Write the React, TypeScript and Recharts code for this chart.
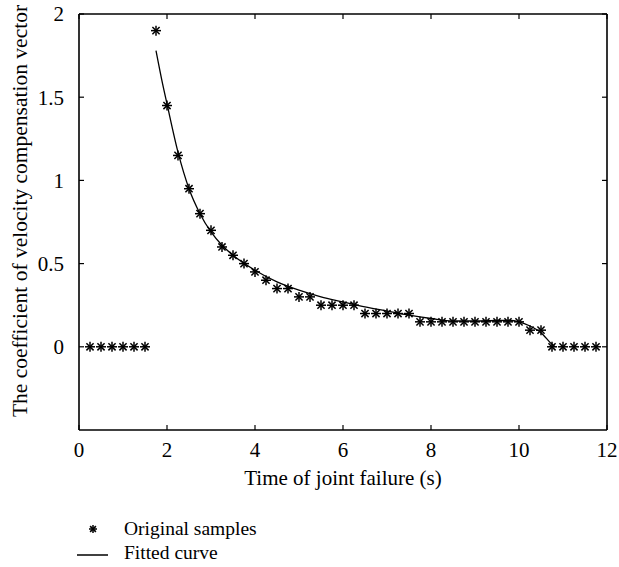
import {
  ComposedChart,
  Scatter,
  Line,
  XAxis,
  YAxis,
} from "recharts";

const sampleX = [
  0.25, 0.5, 0.75, 1, 1.25, 1.5, 1.75, 2, 2.25, 2.5, 2.75, 3, 3.25, 3.5, 3.75, 4,
  4.25, 4.5, 4.75, 5, 5.25, 5.5, 5.75, 6, 6.25, 6.5, 6.75, 7, 7.25, 7.5, 7.75, 8,
  8.25, 8.5, 8.75, 9, 9.25, 9.5, 9.75, 10, 10.25, 10.5, 10.75, 11, 11.25, 11.5, 11.75,
];
const sampleY = [
  0, 0, 0, 0, 0, 0, 1.9, 1.45, 1.15, 0.95, 0.8, 0.7, 0.6, 0.55, 0.5, 0.45,
  0.4, 0.35, 0.35, 0.3, 0.3, 0.25, 0.25, 0.25, 0.25, 0.2, 0.2, 0.2, 0.2, 0.2, 0.15, 0.15,
  0.15, 0.15, 0.15, 0.15, 0.15, 0.15, 0.15, 0.15, 0.1, 0.1, 0, 0, 0, 0, 0,
];

const fitX = [
  1.75, 1.9, 2, 2.25, 2.5, 2.75, 3, 3.25, 3.5, 4, 4.5, 5, 5.5, 6, 6.5, 7, 7.5, 8,
  8.5, 9, 9.5, 9.8, 10, 10.25, 10.5, 10.75, 10.82,
];
const fitY = [
  1.78, 1.58, 1.46, 1.17, 0.95, 0.8, 0.69, 0.61, 0.55, 0.46, 0.39, 0.34, 0.3, 0.27,
  0.24, 0.215, 0.19, 0.17, 0.155, 0.155, 0.158, 0.158, 0.15, 0.125, 0.085, 0.015, 0,
];

const xTicks = [0, 2, 4, 6, 8, 10, 12];
const yTicks = [0, 0.5, 1, 1.5, 2];

const samples = sampleX.map((x, i) => ({ x, y: sampleY[i] }));
const fitted = fitX.map((x, i) => ({ x, y: fitY[i] }));

const FONT = "'Liberation Serif', 'Times New Roman', serif";
const FS = 21;

function Star({ cx, cy, r = 5 }: { cx?: number; cy?: number; r?: number }) {
  if (cx == null || cy == null) return <g />;
  const d = r * 0.72;
  return (
    <g stroke="#000" strokeWidth={1.5}>
      <line x1={cx - r} y1={cy} x2={cx + r} y2={cy} />
      <line x1={cx} y1={cy - r} x2={cx} y2={cy + r} />
      <line x1={cx - d} y1={cy - d} x2={cx + d} y2={cy + d} />
      <line x1={cx - d} y1={cy + d} x2={cx + d} y2={cy - d} />
    </g>
  );
}

const Empty = () => <g />;
const blank = () => "";

const tickStyle = { fill: "#000", fontSize: FS, fontFamily: FONT };
const axisLine = { stroke: "#000", strokeWidth: 1.6 };
const tickLine = { stroke: "#000", strokeWidth: 1.2 };

export default function App() {
  return (
    <div
      style={{
        position: "fixed",
        left: 0,
        top: 0,
        width: 619,
        height: 567,
        background: "#fff",
        fontFamily: FONT,
      }}
    >
      <ComposedChart
        width={619}
        height={498}
        margin={{ top: 14, right: 12, left: 8, bottom: 0 }}
      >
        {/* frame + inward tick marks (mirrored axes, no labels) */}
        <XAxis
          xAxisId="bm"
          orientation="bottom"
          mirror
          dataKey="x"
          type="number"
          domain={[0, 12]}
          ticks={xTicks}
          height={1}
          axisLine={axisLine}
          tickLine={tickLine}
          tickSize={5}
          tickFormatter={blank}
        />
        <XAxis
          xAxisId="t"
          orientation="top"
          mirror
          dataKey="x"
          type="number"
          domain={[0, 12]}
          ticks={xTicks}
          height={1}
          axisLine={axisLine}
          tickLine={tickLine}
          tickSize={5}
          tickFormatter={blank}
        />
        <YAxis
          yAxisId="lm"
          orientation="left"
          mirror
          type="number"
          domain={[-0.5, 2]}
          ticks={yTicks}
          width={1}
          axisLine={axisLine}
          tickLine={tickLine}
          tickSize={5}
          tickFormatter={blank}
        />
        <YAxis
          yAxisId="r"
          orientation="right"
          mirror
          type="number"
          domain={[-0.5, 2]}
          ticks={yTicks}
          width={1}
          axisLine={axisLine}
          tickLine={tickLine}
          tickSize={5}
          tickFormatter={blank}
        />
        {/* labelled axes */}
        <XAxis
          xAxisId="b"
          dataKey="x"
          type="number"
          domain={[0, 12]}
          ticks={xTicks}
          height={68}
          tick={tickStyle}
          axisLine={false}
          tickLine={false}
          tickMargin={6}
          label={{
            content: ({ viewBox }: any) => (
              <text
                x={viewBox.x + viewBox.width / 2}
                y={478}
                textAnchor="middle"
                dominantBaseline="central"
                fontFamily={FONT}
                fontSize={FS}
                fill="#000"
              >
                Time of joint failure (s)
              </text>
            ),
          }}
        />
        <YAxis
          yAxisId="l"
          type="number"
          domain={[-0.5, 2]}
          ticks={yTicks}
          width={71}
          tick={tickStyle}
          axisLine={false}
          tickLine={false}
          tickMargin={9}
          tickFormatter={(v: number) => String(v)}
          label={{
            content: ({ viewBox }: any) => {
              const cy = viewBox.y + viewBox.height / 2 - 11;
              return (
                <text
                  x={20}
                  y={cy}
                  transform={`rotate(-90, 20, ${cy})`}
                  textAnchor="middle"
                  dominantBaseline="central"
                  fontFamily={FONT}
                  fontSize={21.5}
                  fill="#000"
                >
                  The coefficient of velocity compensation vector
                </text>
              );
            },
          }}
        />
        <Scatter xAxisId="bm" yAxisId="lm" data={samples} dataKey="y" shape={Empty} isAnimationActive={false} />
        <Scatter xAxisId="t" yAxisId="r" data={samples} dataKey="y" shape={Empty} isAnimationActive={false} />
        <Line
          xAxisId="b"
          yAxisId="l"
          data={fitted}
          dataKey="y"
          type="monotone"
          stroke="#000"
          strokeWidth={1.3}
          dot={false}
          activeDot={false}
          isAnimationActive={false}
        />
        <Scatter
          xAxisId="b"
          yAxisId="l"
          data={samples}
          dataKey="y"
          shape={<Star />}
          isAnimationActive={false}
        />
      </ComposedChart>
      <svg width={40} height={46} style={{ position: "absolute", left: 68, top: 513 }}>
        <Star cx={25} cy={16} r={4} />
        <line x1={9} y1={42} x2={42} y2={42} stroke="#000" strokeWidth={1.3} />
      </svg>
      <div style={{ position: "absolute", left: 124, top: 517, fontSize: 19.5, lineHeight: "24px", whiteSpace: "nowrap" }}>
        Original samples
      </div>
      <div style={{ position: "absolute", left: 124, top: 541, fontSize: 19.5, lineHeight: "24px", whiteSpace: "nowrap" }}>
        Fitted curve
      </div>
    </div>
  );
}
